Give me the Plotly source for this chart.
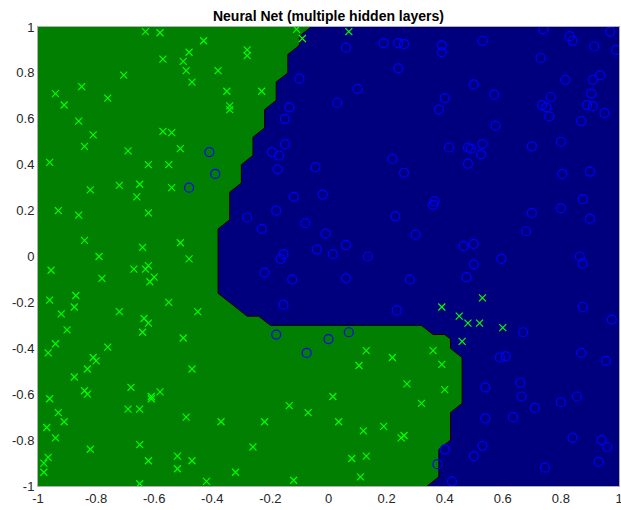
import plotly.graph_objects as go

# ---- data ----
green_x = [-0.63, -0.58, -0.43, -0.48, -0.28, -0.28, -0.57, -0.50, -0.49, -0.38, -0.705, -0.47,
           -0.11, -0.09, 0.07, -0.94, -0.85, -0.91, -0.76, -0.35, -0.23, -0.34, -0.34, -0.86,
           -0.81, -0.57, -0.54, -0.84, -0.69, -0.51, -0.96, -0.62, -0.55, -0.82, -0.72, -0.65,
           -0.54, -0.66, -0.93, -0.86, -0.62, -0.84, -0.64, -0.51, -0.79, -0.48, -0.955, -0.67,
           -0.62, -0.63, -0.60, -0.615, -0.78, -0.87, -0.96, -0.875, -0.92, -0.72, -0.55, -0.45,
           -0.635, -0.62, -0.64, -0.90, -0.94, -0.965, -0.76, -0.50, -0.81, -0.80, -0.83, -0.47,
           -0.875, -0.68, -0.84, -0.83, -0.58, -0.61, -0.61, -0.96, -0.69, -0.65, -0.93, -0.91,
           -0.49, -0.37, -0.22, -0.135, -0.07, -0.97, -0.94, -0.82, -0.65, -0.26, -0.965, -0.98,
           -0.98, -0.52, -0.47, -0.62, -0.52, -0.32, -0.42, -0.12, -0.65,
           0.53, 0.39, 0.45, 0.48, 0.52, 0.60, 0.46, 0.13, 0.22, 0.36, 0.105, 0.39, 0.27, 0.40,
           0.015, 0.32, 0.035, 0.12, 0.19, 0.25, 0.26, 0.08, 0.13, 0.11]
green_y = [0.98, 0.975, 0.94, 0.89, 0.90, 0.875, 0.86, 0.85, 0.81, 0.81, 0.79, 0.76,
           0.99, 0.95, 0.98, 0.71, 0.74, 0.66, 0.69, 0.72, 0.72, 0.656, 0.64, 0.59,
           0.53, 0.545, 0.54, 0.48, 0.46, 0.47, 0.41, 0.40, 0.40, 0.29, 0.31, 0.315,
           0.30, 0.26, 0.20, 0.18, 0.19, 0.07, 0.04, 0.06, 0.00, -0.01, -0.06, -0.055,
           -0.04, -0.055, -0.09, -0.11, -0.095, -0.17, -0.19, -0.22, -0.25, -0.24, -0.20, -0.24,
           -0.27, -0.29, -0.33, -0.32, -0.38, -0.42, -0.395, -0.355, -0.44, -0.455, -0.49, -0.49,
           -0.525, -0.57, -0.585, -0.60, -0.59, -0.61, -0.62, -0.62, -0.665, -0.665, -0.68, -0.72,
           -0.70, -0.72, -0.72, -0.65, -0.68, -0.745, -0.79, -0.84, -0.82, -0.83, -0.875, -0.90,
           -0.94, -0.87, -0.89, -0.89, -0.925, -0.94, -0.98, -0.975, -0.99,
           -0.18, -0.22, -0.26, -0.29, -0.29, -0.31, -0.37, -0.41, -0.44, -0.41, -0.475, -0.47,
           -0.555, -0.58, -0.61, -0.64, -0.72, -0.76, -0.74, -0.79, -0.78, -0.88, -0.87, -0.96]

blue_x = [-0.41, -0.39, -0.48, -0.10, -0.135, -0.15, -0.15, -0.195, -0.17, -0.175, -0.045, -0.12,
          -0.02, -0.18, -0.28, -0.23, -0.08, -0.04, -0.155, -0.165, -0.22, -0.125, -0.155, -0.18,
          -0.075, 0.00, 0.07,
          0.74, 0.83, 0.84, 0.97, 0.915, 0.99, 0.06, 0.19, 0.24, 0.26, 0.39, 0.39, 0.53, 0.73,
          0.24, 0.10, 0.03, 0.50, 0.40, 0.38, 0.57, 0.815, 0.91, 0.935, 0.905, 0.765, 0.735,
          0.75, 0.76, 0.89, 0.91, 0.95, 0.87, 0.575, 0.415, 0.48, 0.49, 0.53, 0.525, 0.48,
          0.70, 0.80, 0.22, 0.26, 0.805, 0.90, 0.365, 0.36, 0.875, 0.23, 0.70, 0.80, 0.90,
          -0.01, 0.30, 0.68, 0.015, 0.06, 0.465, 0.50, 0.135, 0.595, 0.865,
          0.875, 0.50, 0.06, 0.28, 0.475, 0.235, 0.875, 0.975, 0.67, 0.59, 0.61, 0.87, 0.955,
          0.54, 0.66, 0.665, 0.71, 0.80, 0.855, 0.54, 0.635, 0.84, 0.94, 0.96, 0.40, 0.53,
          0.50, 0.375, 0.745, 0.93, 0.425]
blue_y = [0.455, 0.36, 0.30, 0.775, 0.65, 0.60, 0.49, 0.455, 0.44, 0.38, 0.39, 0.26,
          0.27, 0.20, 0.17, 0.12, 0.145, 0.03, 0.01, -0.01, -0.07, -0.10, -0.21, -0.34,
          -0.42, -0.36, -0.33,
          0.99, 0.96, 0.94, 0.98, 0.915, 0.90, 0.91, 0.93, 0.93, 0.925, 0.92, 0.89, 0.94, 0.865,
          0.82, 0.73, 0.67, 0.75, 0.69, 0.64, 0.705, 0.77, 0.77, 0.79, 0.71, 0.695, 0.66,
          0.65, 0.61, 0.66, 0.655, 0.625, 0.59, 0.57, 0.475, 0.475, 0.47, 0.49, 0.445, 0.405,
          0.48, 0.50, 0.425, 0.365, 0.36, 0.37, 0.24, 0.225, 0.25, 0.175, 0.19, 0.21, 0.165,
          0.10, 0.095, 0.11, 0.01, 0.05, 0.045, 0.055, 0.00, -0.01, 0.00,
          -0.03, -0.035, -0.095, -0.10, -0.09, -0.235, -0.22, -0.275, -0.33, -0.44, -0.435, -0.42, -0.455,
          -0.57, -0.55, -0.61, -0.66, -0.635, -0.61, -0.705, -0.70, -0.79, -0.80, -0.83, -0.84, -0.825,
          -0.87, -0.905, -0.92, -0.895, -0.98]

# decision boundary (from top edge to bottom edge)
boundary_x = [-0.06, -0.10, -0.10, -0.14, -0.14, -0.18, -0.18, -0.22, -0.22, -0.26, -0.26,
              -0.30, -0.30, -0.34, -0.34, -0.38, -0.38, -0.28, -0.24, -0.20, 0.32, 0.36,
              0.40, 0.42, 0.42, 0.46, 0.46, 0.42, 0.42, 0.38, 0.38, 0.34]
boundary_y = [1.0, 0.96, 0.92, 0.88, 0.80, 0.76, 0.68, 0.64, 0.56, 0.52, 0.44,
              0.40, 0.32, 0.28, 0.16, 0.12, -0.16, -0.26, -0.26, -0.30, -0.30, -0.34,
              -0.34, -0.36, -0.40, -0.44, -0.64, -0.68, -0.80, -0.84, -0.96, -1.0]

tick_vals = [-1, -0.8, -0.6, -0.4, -0.2, 0, 0.2, 0.4, 0.6, 0.8, 1]
tick_text = ['-1', '-0.8', '-0.6', '-0.4', '-0.2', '0', '0.2', '0.4', '0.6', '0.8', '1']

GREEN_REGION = '#007f00'
BLUE_REGION = '#00007f'

fig = go.Figure()

# green class region: left of boundary
fig.add_trace(go.Scatter(
    x=[-1] + boundary_x + [-1], y=[1] + boundary_y + [-1],
    fill='toself', fillcolor=GREEN_REGION, mode='lines', line=dict(width=0),
    hoverinfo='skip', showlegend=False))
# blue class region: right of boundary
fig.add_trace(go.Scatter(
    x=[1] + boundary_x + [1], y=[1] + boundary_y + [-1],
    fill='toself', fillcolor=BLUE_REGION, mode='lines', line=dict(width=0),
    hoverinfo='skip', showlegend=False))
# boundary line
fig.add_trace(go.Scatter(
    x=boundary_x, y=boundary_y, mode='lines',
    line=dict(color='black', width=1), hoverinfo='skip', showlegend=False))

fig.add_trace(go.Scatter(
    x=green_x, y=green_y, mode='markers',
    marker=dict(symbol='x-thin-open', size=7, color='#00ff00',
                line=dict(color='#00ff00', width=1.2)),
    showlegend=False))
fig.add_trace(go.Scatter(
    x=blue_x, y=blue_y, mode='markers',
    marker=dict(symbol='circle-open', size=9, color='#0000ff',
                line=dict(color='#0000ff', width=1.2)),
    showlegend=False))

axis_common = dict(
    range=[-1, 1], tickvals=tick_vals, ticktext=tick_text, ticks='',
    showgrid=False, zeroline=False, showline=True, linecolor='#b0b0b0',
    linewidth=1, mirror=True, ticklabeloverflow='allow', automargin=False,
    tickfont=dict(family='Liberation Sans, Arial, sans-serif', size=13, color='#262626'),
)

fig.update_layout(
    width=621, height=510,
    margin=dict(l=38, r=2, t=27, b=24),
    paper_bgcolor='white', plot_bgcolor=GREEN_REGION,
    title=dict(text='<b>Neural Net (multiple hidden layers)</b>',
               font=dict(family='Liberation Sans, Arial, sans-serif', size=14, color='black'),
               x=0.5, xref='paper', xanchor='center',
               y=1 - 16 / 510, yref='container', yanchor='middle'),
    xaxis=axis_common, yaxis=axis_common,
)

fig.write_html('out.html')
